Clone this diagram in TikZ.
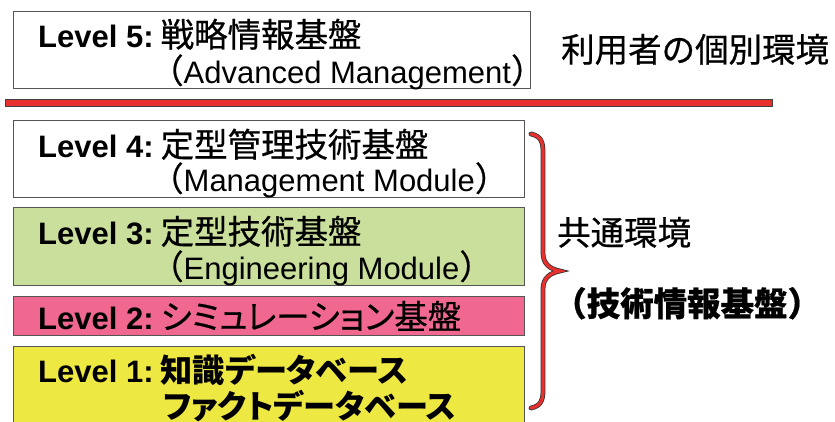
\documentclass[tikz,border=0pt]{standalone}
\usepackage{fontspec}
\setmainfont{Liberation Sans}
\newfontfamily\jp[Scale=1.08,FakeBold=0.6]{Noto Sans CJK JP}
\newfontfamily\jpp[Scale=1.08,FakeBold=0.6,RawFeature=+palt]{Noto Sans CJK JP}
\newfontfamily\jpb[Scale=1.04,RawFeature=+palt]{Noto Sans CJK JP}
\definecolor{barred}{HTML}{E8302F}
\definecolor{lgreen}{HTML}{C9DF9B}
\definecolor{lpink}{HTML}{F06890}
\definecolor{lyellow}{HTML}{EEE842}
\definecolor{edge}{HTML}{555555}
\tikzset{
  box/.style={draw=edge, line width=0.9pt, rectangle, inner sep=0pt, anchor=north west},
  txt/.style={anchor=base west, inner sep=0pt, font=\fontsize{31}{31}\selectfont}
}
\begin{document}
\begin{tikzpicture}[x=1pt,y=-1pt]
\useasboundingbox (0,0) rectangle (835,421);
\clip (0,0) rectangle (835,421);
% boxes
\node[box, fill=white, minimum width=517pt, minimum height=77pt] (b5) at (13,11) {};
\node[box, fill=barred, draw=black!75, minimum width=767pt, minimum height=7pt] (bar) at (5,99) {};
\node[box, fill=white, minimum width=511pt, minimum height=77pt] (b4) at (13,120) {};
\node[box, fill=lgreen, minimum width=511pt, minimum height=78pt] (b3) at (13,207) {};
\node[box, fill=lpink, minimum width=511pt, minimum height=39pt] (b2) at (13,296) {};
\node[box, fill=lyellow, minimum width=511pt, minimum height=80pt] (b1) at (13,346) {};
% texts
\node[txt] (t5a) at (38,47) {\textbf{Level 5:}\kern7pt{\jp 戦略情報基盤}};
\node[txt] (t5b) at (150,83) {{\jp （}Advanced Management{\jp ）}};
\node[txt] (t4a) at (38,157) {\textbf{Level 4:}\kern7pt{\jp 定型管理技術基盤}};
\node[txt] (t4b) at (150,191) {{\jp （}Management Module{\jp ）}};
\node[txt] (t3a) at (38,244) {\textbf{Level 3:}\kern7pt{\jp 定型技術基盤}};
\node[txt] (t3b) at (150,279) {{\jp （}Engineering Module{\jp ）}};
\node[txt] (t2a) at (38,329) {\textbf{Level 2:}\kern7pt{\jpp シミュレーション基盤}};
\node[txt] (t1a) at (38,382) {\textbf{Level 1:}\kern7pt{\jpb\bfseries 知識データベース}};
\node[txt] (t1b) at (163,418) {{\jpb\bfseries ファクトデータベース}};
\node[txt] (r1) at (561,62) {{\jp 利用者の個別環境}};
\node[txt] (r2) at (557,245) {{\jp 共通環境}};
\node[txt] (r3) at (553,316) {{\jp\bfseries （技術情報基盤）}};
% brace
\coordinate (bt) at (531,134);
\coordinate (bm) at (560,271);
\coordinate (bb) at (531,408);
\draw[draw=black!80, line width=0.8pt, double=barred, double distance=3.2pt, line cap=round]
  (bt) .. controls (541,136) and (543,142) .. (543,152)
  -- (543,253) .. controls (543,264) and (550,269) .. (bm)
  .. controls (550,273) and (543,278) .. (543,289)
  -- (543,390) .. controls (543,400) and (541,406) .. (bb);
\end{tikzpicture}
\end{document}
